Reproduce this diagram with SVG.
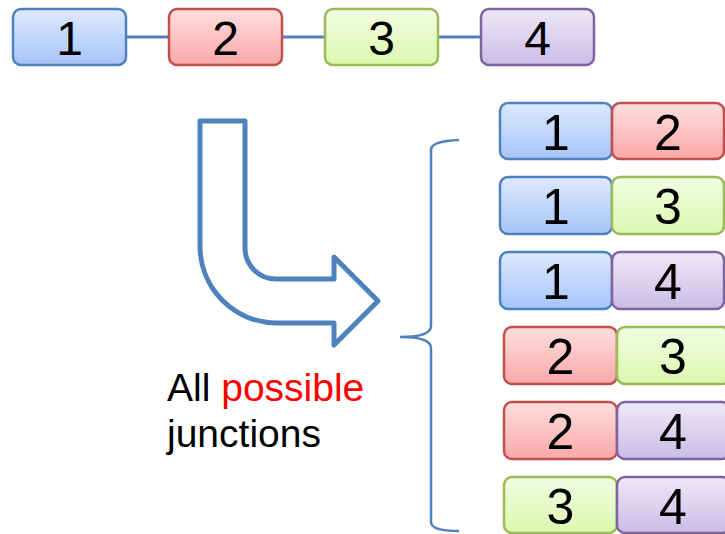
<svg xmlns="http://www.w3.org/2000/svg" width="725" height="534" viewBox="0 0 725 534">
  <defs>
    <linearGradient id="gBlue" x1="0" y1="0" x2="0" y2="1">
      <stop offset="0" stop-color="#dde9fd"/>
      <stop offset="1" stop-color="#a7c5fa"/>
    </linearGradient>
    <linearGradient id="gRed" x1="0" y1="0" x2="0" y2="1">
      <stop offset="0" stop-color="#ffdede"/>
      <stop offset="1" stop-color="#f9a8a8"/>
    </linearGradient>
    <linearGradient id="gGreen" x1="0" y1="0" x2="0" y2="1">
      <stop offset="0" stop-color="#f2fde2"/>
      <stop offset="1" stop-color="#daf8ae"/>
    </linearGradient>
    <linearGradient id="gPurple" x1="0" y1="0" x2="0" y2="1">
      <stop offset="0" stop-color="#eee8f7"/>
      <stop offset="1" stop-color="#cbbce6"/>
    </linearGradient>
    <style>
      .box { stroke-width: 2.5; }
      .blue { fill: url(#gBlue); stroke: #4f81bd; }
      .red { fill: url(#gRed); stroke: #c0504d; }
      .green { fill: url(#gGreen); stroke: #9bbb59; }
      .purple { fill: url(#gPurple); stroke: #8064a2; }
      .num { font-family: "Liberation Sans", Arial, sans-serif; font-size: 48px; fill: #000; text-anchor: middle; }
      .pnum { font-size: 50px; }
      .link { stroke: #4f81bd; stroke-width: 3; fill: none; }
      .label { font-family: "Liberation Sans", Arial, sans-serif; font-size: 39px; fill: #000; }
    </style>
  </defs>
  <rect width="725" height="534" fill="#ffffff"/>

  <!-- chain connectors -->
  <g id="connectors">
    <line class="link" x1="126" y1="37" x2="169" y2="37"/>
    <line class="link" x1="282" y1="37" x2="325" y2="37"/>
    <line class="link" x1="438" y1="37" x2="481" y2="37"/>
  </g>

  <!-- chain nodes -->
  <g id="node-1">
    <rect class="box blue" x="13" y="9" width="113" height="56" rx="8"/>
    <text class="num" x="69.5" y="55">1</text>
  </g>
  <g id="node-2">
    <rect class="box red" x="169" y="9" width="113" height="56" rx="8"/>
    <text class="num" x="225.5" y="55">2</text>
  </g>
  <g id="node-3">
    <rect class="box green" x="325" y="9" width="113" height="56" rx="8"/>
    <text class="num" x="381.5" y="55">3</text>
  </g>
  <g id="node-4">
    <rect class="box purple" x="481" y="9" width="113" height="56" rx="8"/>
    <text class="num" x="537.5" y="55">4</text>
  </g>

  <!-- bent arrow -->
  <g id="bent-arrow">
    <path d="M200,121 L245,121 L245,248 A31,31 0 0 0 276,279 L334,279 L334,257 L378,301 L334,345 L334,323 L277,323 A77,77 0 0 1 200,246 Z"
          fill="none" stroke="#4f81bd" stroke-width="5" stroke-linejoin="round"/>
  </g>

  <!-- caption -->
  <g id="caption">
    <text class="label" x="167" y="401">All <tspan fill="#ff0000">possible</tspan></text>
    <text class="label" x="167" y="447">junctions</text>
  </g>

  <!-- curly brace -->
  <g id="brace">
    <path d="M459,140 Q431,141 431,150 L431,326 Q431,337 400,337 Q431,337 431,348 L431,522 Q431,531 459,531"
          fill="none" stroke="#4f81bd" stroke-width="2.5"/>
  </g>

  <!-- junction pairs -->
  <g id="pair-1-2">
    <rect class="box blue" x="500" y="103" width="112" height="56" rx="8"/>
    <rect class="box red" x="612" y="103" width="112" height="56" rx="8"/>
    <text class="num pnum" x="556" y="150">1</text>
    <text class="num pnum" x="668" y="150">2</text>
  </g>
  <g id="pair-1-3">
    <rect class="box blue" x="500" y="177" width="112" height="57" rx="8"/>
    <rect class="box green" x="612" y="177" width="112" height="57" rx="8"/>
    <text class="num pnum" x="556" y="224">1</text>
    <text class="num pnum" x="668" y="224">3</text>
  </g>
  <g id="pair-1-4">
    <rect class="box blue" x="500" y="252" width="112" height="57" rx="8"/>
    <rect class="box purple" x="612" y="252" width="112" height="57" rx="8"/>
    <text class="num pnum" x="556" y="299">1</text>
    <text class="num pnum" x="668" y="299">4</text>
  </g>
  <g id="pair-2-3">
    <rect class="box red" x="504" y="327" width="113" height="57" rx="8"/>
    <rect class="box green" x="617" y="327" width="113" height="57" rx="8"/>
    <text class="num pnum" x="560.5" y="374">2</text>
    <text class="num pnum" x="673" y="374">3</text>
  </g>
  <g id="pair-2-4">
    <rect class="box red" x="504" y="402" width="113" height="57" rx="8"/>
    <rect class="box purple" x="617" y="402" width="113" height="57" rx="8"/>
    <text class="num pnum" x="560.5" y="449">2</text>
    <text class="num pnum" x="673" y="449">4</text>
  </g>
  <g id="pair-3-4">
    <rect class="box green" x="504" y="477" width="113" height="56" rx="8"/>
    <rect class="box purple" x="617" y="477" width="113" height="56" rx="8"/>
    <text class="num pnum" x="560.5" y="524">3</text>
    <text class="num pnum" x="673" y="524">4</text>
  </g>
</svg>
